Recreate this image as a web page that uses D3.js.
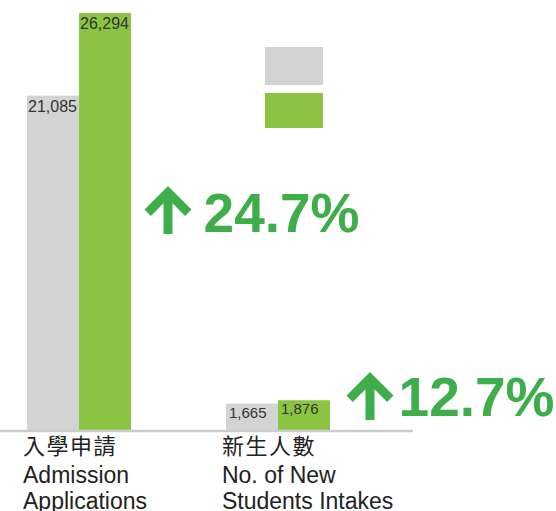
<!DOCTYPE html>
<html>
<head>
<meta charset="utf-8">
<script src="https://cdn.jsdelivr.net/npm/d3@7"></script>
<style>
  html, body { margin: 0; padding: 0; background: #fff; }
  svg { display: block; }
</style>
</head>
<body>
<script>
// ---- data ----
const categoriesZh = ["入學申請", "新生人數"];
const categoriesEn = [["Admission", "Applications"], ["No. of New", "Students Intakes"]];
const seriesNames = ["previous", "current"];
const previousValues = [21085, 1665];
const currentValues = [26294, 1876];
const changeLabels = ["24.7%", "12.7%"];

// ---- layout ----
const W = 556, H = 511;
const baseY = 430, topY = 13;
const colors = ["#d3d3d3", "#8bc443"];
const pctColor = "#3eae4a";

const svg = d3.select("body").append("svg").attr("width", W).attr("height", H);

const x0 = d3.scaleBand().domain(categoriesZh).range([27, 330]).paddingInner(0.477).paddingOuter(0);
const x1 = d3.scaleBand().domain(seriesNames).range([0, x0.bandwidth()]).padding(0);
const y = d3.scaleLinear().domain([0, d3.max(currentValues)]).range([baseY, topY]);
const color = d3.scaleOrdinal().domain(seriesNames).range(colors);

const rows = categoriesZh.map((c, i) => ({
  cat: c, i,
  vals: [
    { key: seriesNames[0], value: previousValues[i] },
    { key: seriesNames[1], value: currentValues[i] }
  ]
}));

const groups = svg.selectAll("g.grp").data(rows).join("g")
  .attr("class", "grp")
  .attr("transform", d => `translate(${x0(d.cat)},0)`);

groups.selectAll("rect").data(d => d.vals).join("rect")
  .attr("x", d => x1(d.key))
  .attr("y", d => y(d.value))
  .attr("width", x1.bandwidth())
  .attr("height", d => baseY - y(d.value))
  .attr("fill", d => color(d.key));

groups.each(function(row) {
  const big = row.i === 0;
  d3.select(this).selectAll("text.val").data(row.vals).join("text")
    .attr("class", "val")
    .attr("x", d => x1(d.key) + (big ? 1 : 3))
    .attr("y", d => y(d.value) + (big ? 16 : 14))
    .attr("font-family", "'Liberation Sans', Arial, sans-serif")
    .attr("font-size", big ? 16 : 15)
    .attr("fill", "#333")
    .text(d => d3.format(",")(d.value));
});

// baseline axis
const xAxis = d3.axisBottom(x0).tickSize(0).tickFormat("");
const axisG = svg.append("g").attr("transform", `translate(0,${baseY + 1})`).call(xAxis);
axisG.select(".domain").remove();
axisG.append("line").attr("x1", 0).attr("x2", 413).attr("stroke", "#cccccc").attr("stroke-width", 2.5);

// category labels
const catG = svg.selectAll("g.cat").data(rows).join("g")
  .attr("class", "cat")
  .attr("transform", d => `translate(${x0(d.cat) - 4},0)`);
catG.append("text")
  .attr("y", 454)
  .attr("font-family", "'Noto Sans CJK TC', 'Noto Sans CJK SC', sans-serif")
  .attr("font-size", 22)
  .attr("letter-spacing", 1.5)
  .attr("fill", "#222")
  .text(d => d.cat);
catG.each(function(d) {
  d3.select(this).selectAll("text.en").data(categoriesEn[d.i]).join("text")
    .attr("class", "en")
    .attr("y", (t, j) => 483 + j * 26)
    .attr("font-family", "'Liberation Sans', Arial, sans-serif")
    .attr("font-size", 23)
    .attr("fill", "#222")
    .text(t => t);
});

// legend swatches
const legend = svg.append("g");
legend.append("rect").attr("x", 265).attr("y", 47).attr("width", 58).attr("height", 38).attr("fill", colors[0]);
legend.append("rect").attr("x", 265).attr("y", 93).attr("width", 58).attr("height", 35).attr("fill", colors[1]);

// change annotations
const annPos = [
  { endX: 359.5, baseline: 232, arrowX: 168, arrowTop: 186 },
  { endX: 554.5, baseline: 416, arrowX: 370, arrowTop: 372 }
];
changeLabels.forEach((lab, i) => {
  const p = annPos[i];
  const g = svg.append("g");
  g.append("text")
    .attr("x", p.endX).attr("y", p.baseline)
    .attr("text-anchor", "end")
    .attr("font-family", "'Liberation Sans', Arial, sans-serif")
    .attr("font-weight", "bold")
    .attr("font-size", 55)
    .attr("fill", pctColor)
    .text(lab);
  const ax = p.arrowX, at = p.arrowTop;
  g.append("path")
    .attr("d", `M${ax - 20.3},${at + 26.7} L${ax},${at + 6.4} L${ax + 20.3},${at + 26.7} M${ax},${at + 8} L${ax},${at + 48}`)
    .attr("fill", "none")
    .attr("stroke", pctColor)
    .attr("stroke-width", 9)
    .attr("stroke-linejoin", "miter")
    .attr("stroke-miterlimit", 10);
});
</script>
</body>
</html>
